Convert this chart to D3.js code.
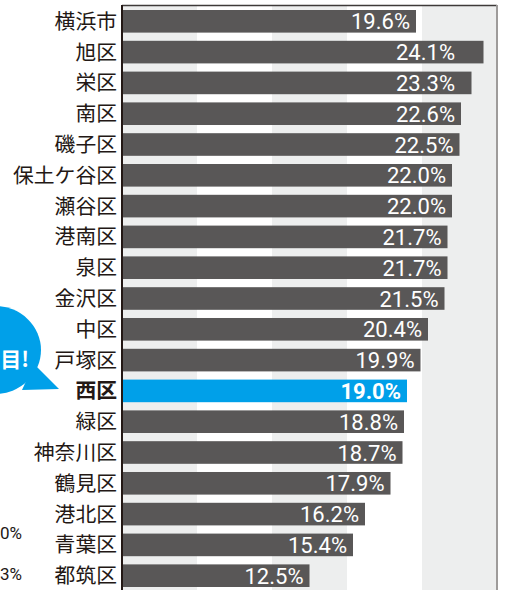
<!DOCTYPE html>
<html>
<head>
<meta charset="utf-8">
<script src="https://cdn.jsdelivr.net/npm/d3@7"></script>
<style>
  body { margin: 0; background: #fff; }
  svg { display: block; }
</style>
</head>
<body>
<div id="chart"></div>
<script>
// datos
var categories = ["横浜市","旭区","栄区","南区","磯子区","保土ケ谷区","瀬谷区","港南区","泉区","金沢区","中区","戸塚区","西区","緑区","神奈川区","鶴見区","港北区","青葉区","都筑区"];
var values = [19.6,24.1,23.3,22.6,22.5,22.0,22.0,21.7,21.7,21.5,20.4,19.9,19.0,18.8,18.7,17.9,16.2,15.4,12.5];
var highlight = "西区";
var bandTicks = [0,5,10,15,20]; // franjas de fondo cada 5%
var sideLabels = ["0%","3%"];   // textos recortados a la izquierda

var width = 520, height = 590;
var margin = {top: 6, left: 122, right: 23};

var svg = d3.select("#chart").append("svg")
    .attr("width", width)
    .attr("height", height);

// escalas
var eX = d3.scaleLinear().domain([0,25]).range([margin.left, width - margin.right]);
var eY = d3.scaleBand().domain(categories).range([margin.top, 591])
    .paddingInner(0.266).paddingOuter(0.13);

// franjas grises alternas
svg.selectAll(".band")
    .data(bandTicks.filter(function(d, i){ return i % 2 == 0; }))
  .enter().append("rect")
    .attr("class","band")
    .attr("x", function(d){ return eX(d); })
    .attr("y", margin.top)
    .attr("width", eX(5) - eX(0))
    .attr("height", height - margin.top)
    .style("fill", "#edeeee");

// bordes
svg.append("line")
    .attr("x1", eX(0)).attr("x2", eX(25))
    .attr("y1", margin.top - 0.5).attr("y2", margin.top - 0.5)
    .style("stroke", "#3e3a39").style("stroke-width", 1.5);
svg.append("line")
    .attr("x1", eX(25)).attr("x2", eX(25))
    .attr("y1", margin.top - 1).attr("y2", height)
    .style("stroke", "#9e9b9a").style("stroke-width", 2);

// barras
svg.selectAll(".bar")
    .data(categories)
  .enter().append("rect")
    .attr("class","bar")
    .attr("x", eX(0))
    .attr("y", function(d){ return eY(d); })
    .attr("width", function(d, i){ return eX(values[i]) - eX(0); })
    .attr("height", eY.bandwidth())
    .style("fill", function(d){ return d == highlight ? "#00a0e9" : "#595757"; });

// eje izquierdo
svg.append("line")
    .attr("x1", eX(0)).attr("x2", eX(0))
    .attr("y1", margin.top - 1).attr("y2", height)
    .style("stroke", "#231815").style("stroke-width", 2);

// etiquetas de categoría
svg.selectAll(".cat")
    .data(categories)
  .enter().append("text")
    .attr("class","cat")
    .attr("x", 117)
    .attr("y", function(d){ return eY(d) + eY.bandwidth()/2; })
    .attr("dy", "0.36em")
    .attr("text-anchor", "end")
    .style("font-family", "'Noto Sans CJK JP', sans-serif")
    .style("font-size", "20.8px")
    .style("font-weight", function(d){ return d == highlight ? "bold" : "normal"; })
    .style("fill", "#231815")
    .text(function(d){ return d; });

// etiquetas de valor
svg.selectAll(".val")
    .data(categories)
  .enter().append("text")
    .attr("class","val")
    .attr("x", function(d, i){ return Math.min(eX(values[i]) - 6, 455); })
    .attr("y", function(d){ return eY(d) + eY.bandwidth()/2; })
    .attr("dy", "0.37em")
    .attr("text-anchor", "end")
    .style("font-family", "Roboto, sans-serif")
    .style("font-size", "22px")
    .style("font-weight", function(d){ return d == highlight ? "bold" : "normal"; })
    .style("fill", "#fff")
    .text(function(d, i){ return values[i].toFixed(1) + "%"; });

// globo azul (recortado)
svg.append("ellipse")
    .attr("cx", -5).attr("cy", 350).attr("rx", 46).attr("ry", 44)
    .style("fill", "#00a0e9");
svg.append("path")
    .attr("d", "M34,364 L59,389 L22,390 Z")
    .style("fill", "#00a0e9");
svg.append("text")
    .attr("x", 29).attr("y", 367)
    .attr("text-anchor", "end")
    .style("font-family", "'Noto Sans CJK JP', sans-serif")
    .style("font-size", "21px")
    .style("font-weight", "bold")
    .style("fill", "#fff")
    .text("目!");

// textos laterales
svg.selectAll(".side")
    .data(sideLabels)
  .enter().append("text")
    .attr("class","side")
    .attr("x", 22)
    .attr("y", function(d, i){ return 539 + i*41; })
    .attr("text-anchor", "end")
    .style("font-family", "Roboto, sans-serif")
    .style("font-size", "17px")
    .style("fill", "#231815")
    .text(function(d){ return d; });
</script>
</body>
</html>
